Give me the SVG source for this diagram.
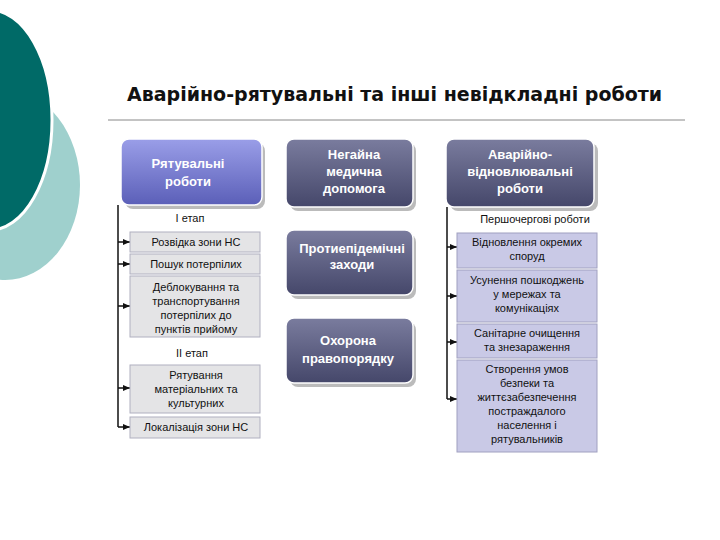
<svg xmlns="http://www.w3.org/2000/svg" width="720" height="540" viewBox="0 0 720 540">
<defs>
<linearGradient id="gl" x1="0" y1="0" x2="0" y2="1"><stop offset="0" stop-color="#9a9ee8"/><stop offset="1" stop-color="#5b5fb8"/></linearGradient>
<linearGradient id="gd" x1="0" y1="0" x2="0" y2="1"><stop offset="0" stop-color="#7a7c9e"/><stop offset="1" stop-color="#45476a"/></linearGradient>
<marker id="ar" markerWidth="8" markerHeight="8" refX="7" refY="4" orient="auto" markerUnits="userSpaceOnUse"><path d="M0,1 L7,4 L0,7z" fill="#111"/></marker>
</defs>
<style>
.t{font-family:"Liberation Sans",Arial,sans-serif}
.h{fill:#fff;font-weight:bold;font-size:13px;text-anchor:middle}
.c{fill:#111;font-size:11px;text-anchor:middle}
.g{fill:#e4e4e6;stroke:#b0b0c0;stroke-width:1}
.v{fill:#c9c9e6;stroke:#a0a0c0;stroke-width:1}
.ln{stroke:#111;stroke-width:1.5;fill:none}
.sh{fill:#bbb}
</style>
<rect width="720" height="540" fill="#fff"/>
<ellipse cx="5" cy="185" rx="75" ry="95" fill="#9fd0cd"/>
<ellipse cx="-10" cy="120" rx="62" ry="110" fill="#006a67" stroke="#fff" stroke-width="3"/>
<text x="127" y="101" font-family="'DejaVu Sans',Verdana,sans-serif" font-size="19" font-weight="bold" fill="#111">Аварійно-рятувальні та інші невідкладні роботи</text>
<line x1="108" y1="120" x2="685" y2="120" stroke="#888" stroke-width="1"/>

<g id="connectors">
<path class="ln" d="M118,205 V427"/>
<path class="ln" d="M118,242 H130" marker-end="url(#ar)"/>
<path class="ln" d="M118,264 H130" marker-end="url(#ar)"/>
<path class="ln" d="M118,306 H130" marker-end="url(#ar)"/>
<path class="ln" d="M118,388 H130" marker-end="url(#ar)"/>
<path class="ln" d="M118,427 H130" marker-end="url(#ar)"/>
<path class="ln" d="M447,207 V399"/>
<path class="ln" d="M447,247 H457" marker-end="url(#ar)"/>
<path class="ln" d="M447,296 H457" marker-end="url(#ar)"/>
<path class="ln" d="M447,342 H457" marker-end="url(#ar)"/>
<path class="ln" d="M447,399 H457" marker-end="url(#ar)"/>
</g>

<g id="n1" class="t"><rect class="sh" x="125" y="143" width="140" height="66" rx="8"/><rect x="121" y="139" width="141" height="66" rx="8" fill="url(#gl)" stroke="#fff" stroke-width="1.5"/><text class="h" x="188" y="168">Рятувальні</text><text class="h" x="188" y="186">роботи</text></g>
<g id="n2" class="t"><rect class="sh" x="290" y="143" width="126" height="68" rx="8"/><rect x="286" y="139" width="127" height="68" rx="8" fill="url(#gd)" stroke="#fff" stroke-width="1.5"/><text class="h" x="354" y="159">Негайна</text><text class="h" x="354" y="176">медична</text><text class="h" x="354" y="193">допомога</text></g>
<g id="n3" class="t"><rect class="sh" x="450" y="143" width="148" height="68" rx="8"/><rect x="446" y="139" width="148" height="68" rx="8" fill="url(#gd)" stroke="#fff" stroke-width="1.5"/><text class="h" x="520" y="159">Аварійно-</text><text class="h" x="520" y="176">відновлювальні</text><text class="h" x="520" y="193">роботи</text></g>

<g id="s1" class="t"><text class="c" x="190" y="222">І етап</text></g>
<g id="l1" class="t"><rect class="g" x="130" y="232" width="130" height="20"/><text class="c" x="196" y="246">Розвідка зони НС</text></g>
<g id="l2" class="t"><rect class="g" x="130" y="254" width="130" height="20"/><text class="c" x="196" y="268">Пошук потерпілих</text></g>
<g id="l3" class="t"><rect class="g" x="130" y="276" width="130" height="61"/><text class="c" x="196" y="291">Деблокування та</text><text class="c" x="196" y="305">транспортування</text><text class="c" x="196" y="319">потерпілих до</text><text class="c" x="196" y="333">пунктів прийому</text></g>
<g id="s2" class="t"><text class="c" x="192" y="357">ІІ етап</text></g>
<g id="l4" class="t"><rect class="g" x="130" y="365" width="130" height="48"/><text class="c" x="196" y="379">Рятування</text><text class="c" x="196" y="393">матеріальних та</text><text class="c" x="196" y="407">культурних</text></g>
<g id="l5" class="t"><rect class="g" x="130" y="417" width="130" height="21"/><text class="c" x="196" y="431">Локалізація зони НС</text></g>

<g id="m1" class="t"><rect class="sh" x="290" y="234" width="126" height="65" rx="8"/><rect x="286" y="230" width="127" height="65" rx="8" fill="url(#gd)" stroke="#fff" stroke-width="1.5"/><text class="h" x="352" y="253" font-size="12">Протиепідемічні</text><text class="h" x="352" y="269" font-size="12">заходи</text></g>
<g id="m2" class="t"><rect class="sh" x="290" y="322" width="126" height="65" rx="8"/><rect x="286" y="318" width="127" height="65" rx="8" fill="url(#gd)" stroke="#fff" stroke-width="1.5"/><text class="h" x="348" y="345">Охорона</text><text class="h" x="348" y="363">правопорядку</text></g>

<g id="s3" class="t"><text class="c" x="535" y="223" font-size="11.5">Першочергові роботи</text></g>
<g id="r1" class="t"><rect class="v" x="457" y="233" width="140" height="35"/><text class="c" x="527" y="246">Відновлення окремих</text><text class="c" x="527" y="260">споруд</text></g>
<g id="r2" class="t"><rect class="v" x="457" y="270" width="140" height="52"/><text class="c" x="527" y="284">Усунення пошкоджень</text><text class="c" x="527" y="298">у мережах та</text><text class="c" x="527" y="312">комунікаціях</text></g>
<g id="r3" class="t"><rect class="v" x="457" y="324" width="140" height="34"/><text class="c" x="527" y="337">Санітарне очищення</text><text class="c" x="527" y="351">та знезараження</text></g>
<g id="r4" class="t"><rect class="v" x="457" y="360" width="140" height="92"/><text class="c" x="527" y="373">Створення умов</text><text class="c" x="527" y="387">безпеки та</text><text class="c" x="527" y="401">життєзабезпечення</text><text class="c" x="527" y="415">постраждалого</text><text class="c" x="527" y="429">населення і</text><text class="c" x="527" y="443">рятувальників</text></g>
</svg>
